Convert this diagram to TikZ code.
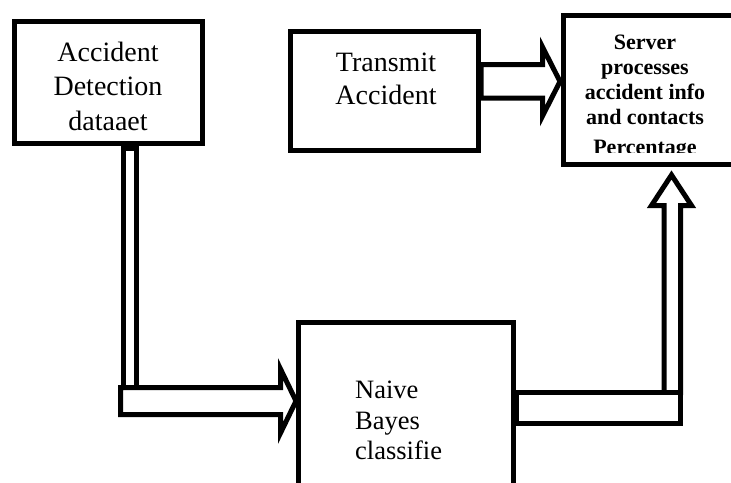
\documentclass[tikz,border=0pt]{standalone}
\usepackage{fontspec}
\setmainfont{Liberation Serif}
\begin{document}
\begin{tikzpicture}[x=1pt,y=-1pt,line join=miter,
  box/.style={draw,line width=5pt,rectangle,inner sep=0pt},
  blk/.style={draw,line width=5pt,fill=white},
  lbl/.style={inner sep=0pt,align=center,anchor=north}]
\useasboundingbox (0,0) rectangle (731,482);
\clip (0,0) rectangle (731,482);
% boxes
\node[box,minimum width=188pt,minimum height=122pt] (acc) at (108.5,82.5) {};
\node[box,minimum width=188pt,minimum height=119pt] (tra) at (384.5,91) {};
\node[box,minimum width=200pt,minimum height=149.5pt] (srv) at (663,89.75) {};
\node[box,minimum width=215pt,minimum height=200pt] (nb) at (406,422.5) {};
% texts
\node[lbl,font=\fontsize{28}{34.3}\selectfont] (acct) at (108,42) {Accident\\Detection\\dataaet};
\node[lbl,font=\fontsize{28}{33.5}\selectfont] (trat) at (386,52.6) {Transmit\\Accident};
\begin{scope}
  \clip (566,18) rectangle (731,152);
  \node[lbl,font=\fontsize{22}{25}\selectfont\bfseries] (srvt) at (645,35)
    {Server\\processes\\accident info\\and contacts\\[5pt]Percentage};
\end{scope}
\node[lbl,anchor=north west,align=left,font=\fontsize{26.5}{30.5}\selectfont] (nbt) at (355,381)
  {Naive\\Bayes\\classifie};
% connectors
\draw[blk] (acc.south -| 123.5,0) ++(0,2) coordinate (s1)
  rectangle (136.5,387.5) coordinate (s2);
\draw[blk] (120.5,387.5) -- (280.5,387.5) -- (280.5,369) -- (nb.west |- 0,401)
  -- (280.5,433) -- (280.5,414.5) -- (120.5,414.5) -- cycle;
\draw[blk] (tra.east |- 0,64.5) -- (542.5,64.5) -- (542.5,47) -- (560,81.5)
  -- (542.5,116) -- (542.5,98) -- (tra.east |- 0,98) -- cycle;
\draw[blk] (664,392.5) -- (664,205.5) -- (651.5,205.5) -- (671.5,175)
  -- (691.5,205.5) -- (680.5,205.5) -- (680.5,392.5) -- cycle;
\draw[blk] (nb.east |- 0,392.5) rectangle (680.5,423.5);
\end{tikzpicture}
\end{document}
